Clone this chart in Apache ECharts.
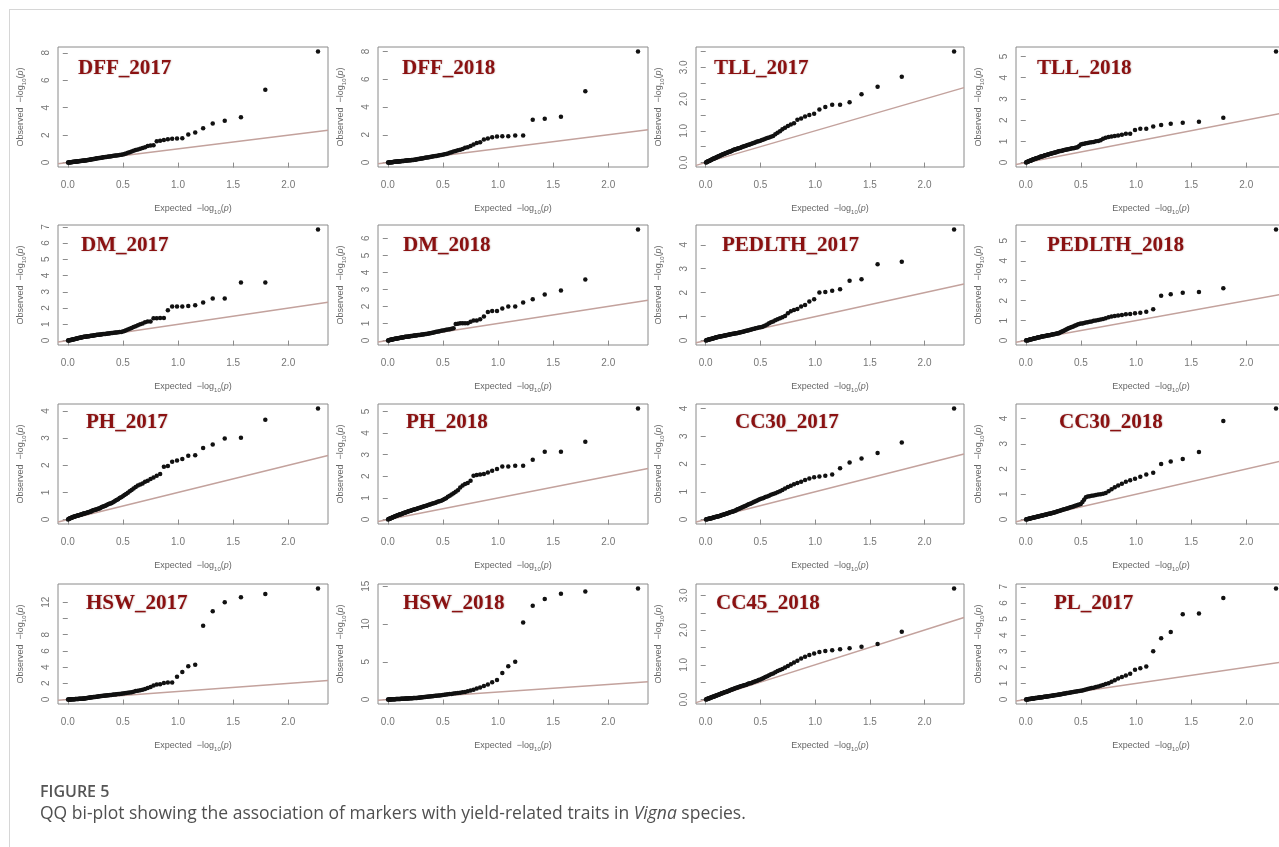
<!DOCTYPE html>
<html><head><meta charset="utf-8">
<script src="https://cdn.jsdelivr.net/npm/echarts@6/dist/echarts.min.js"></script>
<style>
html,body{margin:0;padding:0;background:#fff;}
#chart{width:1279px;height:847px;position:absolute;left:0;top:0;}
.frame{position:absolute;left:9px;top:9px;width:1270px;height:838px;border-top:1px solid #d6d6d6;border-left:1px solid #d6d6d6;pointer-events:none;}
</style></head>
<body>
<div id="chart"></div><div class="frame"></div>
<script>
// Expected -log10(p) quantiles (shared by all panels), largest first
const EXPECTED = [2.270,1.792,1.571,1.424,1.315,1.228,1.156,1.093,1.039,0.991,0.947,0.908,0.872,0.838,0.807,0.778,0.751,0.725,0.701,
0.679,0.657,0.636,0.616,0.597,0.579,0.562,0.545,0.529,0.514,
0.499,0.484,0.470,0.457,0.443,0.431,0.418,0.406,0.394,0.383,
0.372,0.361,0.350,0.340,0.330,0.320,0.310,0.301,0.292,0.283,
0.274,0.265,0.257,0.248,0.240,0.232,0.224,0.216,0.209,0.201,
0.194,0.187,0.180,0.173,0.166,0.159,0.152,0.146,0.139,0.133,
0.127,0.120,0.114,0.108,0.102,0.096,0.091,0.085,0.079,0.074,
0.068,0.063,0.057,0.052,0.047,0.042,0.037,0.032,0.027,0.022,
0.017,0.012,0.007,0.002];

const PANEL_NAMES = ['DFF_2017','DFF_2018','TLL_2017','TLL_2018','DM_2017','DM_2018','PEDLTH_2017','PEDLTH_2018',
'PH_2017','PH_2018','CC30_2017','CC30_2018','HSW_2017','HSW_2018','CC45_2018','PL_2017'];

// Observed -log10(p), largest first
const OBS_DFF_2017 = [8.1,5.3,3.3,3.05,2.85,2.5,2.2,2.05,1.78,1.75,1.73,1.7,1.65,1.6,1.56,1.27,1.24,1.2,1.12,
1.07,1.01,0.96,0.91,0.86,0.81,0.76,0.72,0.67,0.63,
0.59,0.57,0.555,0.54,0.52,0.51,0.49,0.48,0.46,0.45,
0.44,0.42,0.41,0.40,0.39,0.38,0.36,0.35,0.34,0.33,
0.32,0.31,0.29,0.28,0.27,0.26,0.25,0.24,0.23,0.21,
0.20,0.19,0.18,0.17,0.166,0.159,0.152,0.146,0.139,0.133,
0.127,0.120,0.114,0.108,0.102,0.096,0.091,0.085,0.079,0.074,
0.068,0.063,0.057,0.052,0.047,0.042,0.037,0.032,0.027,0.022,
0.017,0.012,0.007,0.002];
const OBS_DFF_2018 = [8.0,5.13,3.3,3.15,3.08,1.95,1.95,1.9,1.9,1.88,1.83,1.73,1.66,1.47,1.40,1.3,1.2,1.1,1.06,
0.98,0.93,0.88,0.83,0.79,0.74,0.70,0.66,0.62,0.59,
0.56,0.54,0.52,0.50,0.48,0.47,0.45,0.43,0.42,0.40,
0.39,0.37,0.36,0.34,0.33,0.31,0.30,0.29,0.27,0.26,
0.25,0.23,0.22,0.21,0.20,0.19,0.19,0.18,0.17,0.17,
0.16,0.16,0.15,0.14,0.14,0.13,0.13,0.12,0.12,0.11,
0.11,0.10,0.09,0.09,0.08,0.08,0.08,0.07,0.07,0.06,
0.06,0.05,0.05,0.04,0.04,0.03,0.03,0.03,0.02,0.02,
0.01,0.01,0.01,0.00];
const OBS_TLL_2017 = [3.5,2.7,2.39,2.15,1.9,1.82,1.82,1.75,1.67,1.54,1.50,1.45,1.39,1.35,1.24,1.20,1.15,1.10,1.05,
0.99,0.94,0.89,0.84,0.81,0.79,0.77,0.75,0.73,0.71,
0.69,0.67,0.66,0.64,0.62,0.61,0.59,0.58,0.56,0.55,
0.54,0.52,0.51,0.50,0.49,0.47,0.46,0.45,0.44,0.43,
0.42,0.41,0.40,0.39,0.37,0.36,0.35,0.34,0.33,0.32,
0.31,0.30,0.29,0.28,0.27,0.26,0.25,0.24,0.23,0.22,
0.21,0.20,0.19,0.18,0.17,0.16,0.15,0.14,0.13,0.13,
0.12,0.11,0.10,0.09,0.08,0.07,0.06,0.05,0.05,0.04,
0.03,0.02,0.01,0.00];
const OBS_TLL_2018 = [5.24,2.11,1.92,1.88,1.83,1.77,1.70,1.59,1.59,1.53,1.36,1.36,1.31,1.28,1.25,1.23,1.20,1.17,1.12,
1.05,1.02,1.00,0.97,0.96,0.94,0.92,0.91,0.89,0.87,
0.85,0.78,0.72,0.71,0.69,0.68,0.67,0.65,0.64,0.63,
0.61,0.60,0.59,0.58,0.56,0.55,0.54,0.53,0.52,0.50,
0.49,0.48,0.46,0.45,0.44,0.43,0.41,0.40,0.39,0.38,
0.37,0.36,0.35,0.34,0.32,0.31,0.30,0.29,0.28,0.27,
0.26,0.24,0.23,0.22,0.21,0.20,0.19,0.18,0.17,0.16,
0.15,0.14,0.12,0.11,0.10,0.09,0.08,0.07,0.06,0.05,
0.04,0.03,0.02,0.00];
const OBS_DM_2017 = [6.84,3.57,3.57,2.59,2.59,2.35,2.18,2.12,2.10,2.10,2.10,1.86,1.39,1.39,1.37,1.37,1.18,1.18,1.12,
1.05,1.00,0.94,0.88,0.83,0.78,0.73,0.68,0.63,0.59,
0.55,0.53,0.52,0.51,0.50,0.49,0.48,0.47,0.46,0.45,
0.44,0.43,0.42,0.41,0.40,0.40,0.39,0.38,0.37,0.36,
0.35,0.35,0.34,0.33,0.32,0.31,0.30,0.30,0.29,0.28,
0.27,0.27,0.26,0.25,0.25,0.24,0.23,0.23,0.22,0.21,
0.20,0.19,0.18,0.17,0.16,0.15,0.14,0.13,0.12,0.11,
0.10,0.09,0.08,0.08,0.07,0.06,0.05,0.04,0.04,0.03,
0.02,0.02,0.01,0.00];
const OBS_DM_2018 = [6.52,3.59,2.93,2.70,2.42,2.23,2.00,2.00,1.88,1.74,1.74,1.68,1.41,1.25,1.17,1.17,1.11,1.02,1.02,
1.02,1.01,0.99,0.97,0.72,0.70,0.67,0.65,0.63,0.61,
0.59,0.57,0.55,0.53,0.51,0.50,0.48,0.46,0.45,0.43,
0.42,0.40,0.39,0.38,0.37,0.36,0.35,0.34,0.33,0.33,
0.32,0.31,0.30,0.29,0.29,0.28,0.27,0.26,0.26,0.25,
0.24,0.24,0.23,0.23,0.22,0.22,0.21,0.20,0.19,0.18,
0.18,0.17,0.16,0.15,0.15,0.14,0.13,0.12,0.12,0.11,
0.10,0.10,0.09,0.08,0.08,0.07,0.06,0.05,0.04,0.04,
0.03,0.02,0.01,0.00];
const OBS_PEDLTH_2017 = [4.64,3.29,3.19,2.56,2.50,2.14,2.08,2.03,2.01,1.72,1.63,1.49,1.42,1.32,1.28,1.22,1.14,1.03,0.97,
0.93,0.89,0.85,0.80,0.76,0.72,0.67,0.63,0.60,0.57,
0.56,0.54,0.52,0.51,0.49,0.48,0.46,0.45,0.43,0.42,
0.41,0.40,0.38,0.37,0.36,0.35,0.34,0.33,0.32,0.31,
0.30,0.29,0.28,0.28,0.27,0.26,0.26,0.25,0.24,0.23,
0.23,0.22,0.21,0.21,0.20,0.19,0.19,0.18,0.18,0.17,
0.17,0.16,0.15,0.15,0.14,0.13,0.13,0.12,0.11,0.10,
0.10,0.09,0.08,0.07,0.07,0.06,0.05,0.04,0.04,0.03,
0.02,0.02,0.01,0.00];
const OBS_PEDLTH_2018 = [5.57,2.62,2.43,2.40,2.32,2.25,1.57,1.45,1.40,1.37,1.33,1.32,1.28,1.25,1.23,1.20,1.17,1.12,1.08,
1.05,1.03,1.01,0.99,0.96,0.94,0.92,0.90,0.88,0.86,
0.85,0.83,0.80,0.77,0.74,0.71,0.68,0.66,0.63,0.60,
0.57,0.54,0.51,0.48,0.45,0.43,0.40,0.37,0.36,0.35,
0.34,0.33,0.32,0.31,0.30,0.29,0.28,0.27,0.27,0.26,
0.25,0.24,0.23,0.23,0.22,0.21,0.20,0.20,0.19,0.18,
0.17,0.16,0.15,0.15,0.14,0.13,0.12,0.11,0.11,0.10,
0.09,0.08,0.08,0.07,0.06,0.05,0.05,0.04,0.03,0.02,
0.02,0.01,0.01,0.00];
const OBS_PH_2017 = [4.09,3.67,3.01,2.98,2.76,2.63,2.37,2.35,2.23,2.17,2.13,1.97,1.94,1.68,1.61,1.55,1.49,1.43,1.39,
1.33,1.29,1.25,1.20,1.14,1.09,1.04,0.99,0.94,0.90,
0.86,0.82,0.79,0.75,0.72,0.69,0.66,0.63,0.60,0.59,
0.57,0.55,0.53,0.51,0.49,0.48,0.46,0.44,0.42,0.41,
0.40,0.38,0.37,0.36,0.35,0.34,0.33,0.31,0.30,0.29,
0.28,0.27,0.26,0.25,0.24,0.23,0.22,0.22,0.21,0.20,
0.19,0.19,0.18,0.17,0.16,0.16,0.15,0.14,0.13,0.13,
0.12,0.11,0.10,0.10,0.09,0.08,0.08,0.07,0.06,0.05,
0.04,0.03,0.02,0.00];
const OBS_PH_2018 = [5.14,3.60,3.14,3.14,2.77,2.49,2.49,2.46,2.46,2.34,2.26,2.18,2.11,2.08,2.06,2.03,1.80,1.69,1.65,
1.58,1.48,1.36,1.29,1.22,1.16,1.10,1.05,0.99,0.95,
0.90,0.87,0.85,0.83,0.80,0.78,0.76,0.74,0.72,0.70,
0.68,0.66,0.64,0.63,0.61,0.59,0.58,0.56,0.55,0.53,
0.52,0.50,0.49,0.48,0.46,0.45,0.44,0.43,0.41,0.40,
0.39,0.38,0.36,0.35,0.34,0.33,0.31,0.30,0.29,0.28,
0.26,0.25,0.24,0.23,0.22,0.21,0.20,0.19,0.18,0.17,
0.15,0.14,0.13,0.12,0.11,0.09,0.08,0.07,0.06,0.05,
0.04,0.03,0.02,0.00];
const OBS_CC30_2017 = [4.0,2.77,2.4,2.2,2.05,1.85,1.62,1.58,1.55,1.52,1.48,1.42,1.36,1.32,1.27,1.22,1.17,1.12,1.06,
1.02,0.98,0.95,0.92,0.89,0.86,0.83,0.81,0.78,0.76,
0.74,0.71,0.69,0.66,0.64,0.61,0.59,0.57,0.55,0.53,
0.51,0.49,0.47,0.45,0.43,0.42,0.40,0.38,0.37,0.35,
0.33,0.32,0.30,0.29,0.28,0.27,0.26,0.25,0.24,0.23,
0.22,0.21,0.20,0.19,0.18,0.17,0.16,0.16,0.15,0.14,
0.13,0.12,0.12,0.11,0.10,0.10,0.09,0.09,0.08,0.07,
0.07,0.06,0.06,0.05,0.05,0.04,0.04,0.03,0.03,0.02,
0.02,0.01,0.01,0.00];
const OBS_CC30_2018 = [4.4,3.9,2.68,2.4,2.3,2.2,1.85,1.78,1.7,1.62,1.56,1.5,1.42,1.35,1.28,1.2,1.12,1.05,1.02,
1.00,0.99,0.97,0.95,0.94,0.92,0.91,0.88,0.78,0.70,
0.62,0.60,0.58,0.56,0.54,0.52,0.50,0.49,0.47,0.45,
0.44,0.42,0.41,0.40,0.38,0.37,0.35,0.34,0.33,0.32,
0.30,0.29,0.28,0.27,0.26,0.25,0.24,0.23,0.23,0.22,
0.21,0.20,0.19,0.19,0.18,0.17,0.16,0.16,0.15,0.14,
0.14,0.13,0.12,0.12,0.11,0.10,0.10,0.09,0.09,0.08,
0.07,0.07,0.06,0.06,0.05,0.05,0.04,0.03,0.03,0.02,
0.02,0.01,0.01,0.00];
const OBS_HSW_2017 = [13.7,13.0,12.6,12.0,10.9,9.1,4.3,4.1,3.4,2.8,2.1,2.1,2.05,1.9,1.85,1.72,1.56,1.43,1.3,
1.20,1.15,1.10,1.04,0.95,0.91,0.88,0.84,0.80,0.77,
0.74,0.71,0.69,0.67,0.65,0.63,0.61,0.59,0.57,0.56,
0.54,0.52,0.50,0.49,0.47,0.46,0.44,0.43,0.41,0.40,
0.38,0.36,0.35,0.33,0.31,0.30,0.28,0.27,0.25,0.24,
0.22,0.21,0.20,0.18,0.17,0.16,0.14,0.13,0.12,0.11,
0.11,0.10,0.10,0.09,0.09,0.08,0.08,0.07,0.07,0.06,
0.06,0.05,0.05,0.04,0.04,0.04,0.03,0.03,0.02,0.02,
0.01,0.01,0.01,0.00];
const OBS_HSW_2018 = [14.7,14.3,14.0,13.3,12.4,10.2,5.0,4.4,3.5,2.6,2.3,2.0,1.8,1.6,1.45,1.3,1.2,1.1,1.0,
0.95,0.91,0.87,0.83,0.79,0.75,0.72,0.69,0.66,0.63,
0.60,0.57,0.55,0.53,0.51,0.49,0.47,0.45,0.43,0.41,
0.40,0.38,0.36,0.34,0.33,0.31,0.30,0.28,0.27,0.25,
0.24,0.22,0.21,0.20,0.19,0.19,0.18,0.17,0.17,0.16,
0.16,0.15,0.14,0.14,0.13,0.13,0.12,0.12,0.11,0.11,
0.10,0.10,0.09,0.09,0.08,0.08,0.07,0.07,0.06,0.06,
0.05,0.05,0.05,0.04,0.04,0.03,0.03,0.03,0.02,0.02,
0.01,0.01,0.01,0.00];
const OBS_CC45_2018 = [3.2,1.95,1.6,1.52,1.48,1.45,1.42,1.4,1.37,1.33,1.28,1.23,1.18,1.12,1.07,1.02,0.97,0.92,0.88,
0.85,0.82,0.79,0.75,0.73,0.70,0.67,0.65,0.62,0.60,
0.58,0.56,0.54,0.53,0.51,0.50,0.48,0.47,0.46,0.45,
0.43,0.42,0.41,0.40,0.39,0.38,0.37,0.36,0.35,0.34,
0.33,0.32,0.31,0.30,0.29,0.28,0.27,0.26,0.25,0.24,
0.23,0.22,0.22,0.21,0.20,0.19,0.18,0.18,0.17,0.16,
0.15,0.14,0.14,0.13,0.12,0.12,0.11,0.10,0.09,0.09,
0.08,0.08,0.07,0.06,0.06,0.05,0.04,0.04,0.03,0.03,
0.02,0.01,0.01,0.00];
const OBS_PL_2017 = [6.9,6.3,5.35,5.3,4.2,3.8,3.0,2.05,1.95,1.85,1.6,1.5,1.4,1.3,1.2,1.1,1.02,0.96,0.9,
0.85,0.81,0.78,0.74,0.71,0.68,0.65,0.62,0.60,0.57,
0.55,0.53,0.51,0.50,0.48,0.47,0.45,0.44,0.42,0.41,
0.40,0.38,0.37,0.36,0.35,0.33,0.32,0.31,0.30,0.29,
0.28,0.27,0.26,0.25,0.24,0.23,0.22,0.22,0.21,0.20,
0.19,0.19,0.18,0.17,0.17,0.16,0.15,0.15,0.14,0.13,
0.13,0.12,0.11,0.11,0.10,0.10,0.09,0.09,0.08,0.07,
0.07,0.06,0.06,0.05,0.05,0.04,0.04,0.03,0.03,0.02,
0.02,0.01,0.01,0.00];

const PANEL_OBS = [OBS_DFF_2017,OBS_DFF_2018,OBS_TLL_2017,OBS_TLL_2018,OBS_DM_2017,OBS_DM_2018,OBS_PEDLTH_2017,OBS_PEDLTH_2018,
OBS_PH_2017,OBS_PH_2018,OBS_CC30_2017,OBS_CC30_2018,OBS_HSW_2017,OBS_HSW_2018,OBS_CC45_2018,OBS_PL_2017];

// Tick marks and tick labels
const X_TICKS = [0, 0.5, 1, 1.5, 2];
const Y_TICKS = [[0,2,4,6,8],[0,2,4,6,8],[0,0.5,1,1.5,2,2.5,3,3.5],[0,1,2,3,4,5],
[0,1,2,3,4,5,6,7],[0,1,2,3,4,5,6],[0,1,2,3,4],[0,1,2,3,4,5],
[0,1,2,3,4],[0,1,2,3,4,5],[0,1,2,3,4],[0,1,2,3,4],
[0,2,4,6,8,10,12],[0,5,10,15],[0,0.5,1,1.5,2,2.5,3],[0,1,2,3,4,5,6,7]];
const Y_LABELS = [[0,2,4,6,8],[0,2,4,6,8],[0,1,2,3],[0,1,2,3,4,5],
[0,1,2,3,4,5,6,7],[0,1,2,3,4,5,6],[0,1,2,3,4],[0,1,2,3,4,5],
[0,1,2,3,4],[0,1,2,3,4,5],[0,1,2,3,4],[0,1,2,3,4],
[0,2,4,6,8,12],[0,5,10,15],[0,1,2,3],[0,1,2,3,4,5,6,7]];
const Y_DECIMALS = [0,0,1,0, 0,0,0,0, 0,0,0,0, 0,0,1,0];

// Layout (pixels)
const COL_LEFT = [58, 378, 696, 1016];
const COL_W = [270, 270, 268, 270];
const ROW_TOP = [47, 225, 404, 584];
const ROW_H = 120;
const TITLE_LEFT = [78,402,714,1037, 81,403,722,1047, 86,406,735,1059, 86,403,716,1054];
const TITLE_CY = [70, 247, 424, 605];

const chart = echarts.init(document.getElementById('chart'), null, {renderer:'canvas'});
const TICK_COLOR = '#8c8c8c', LABEL_COLOR = '#767676';
const nameRich = {
  s: {fontSize: 6, fontFamily: 'Liberation Sans', color: '#666', verticalAlign: 'bottom', lineHeight: 13},
  i: {fontSize: 9, fontFamily: 'Liberation Sans', color: '#666', fontStyle: 'italic'}
};
const option = {animation:false, backgroundColor:'#ffffff', title:[], grid:[], xAxis:[], yAxis:[], series:[], graphic:[]};

PANEL_NAMES.forEach((name, k) => {
  const r = Math.floor(k/4), c = k % 4;
  const obs = PANEL_OBS[k];
  const xLo = Math.min(...EXPECTED), xHi = Math.max(...EXPECTED);
  const xMin = xLo - 0.04*(xHi-xLo), xMax = xHi + 0.04*(xHi-xLo);
  const yLo = Math.min(...obs), yHi = Math.max(...obs);
  const yMin = yLo - 0.04*(yHi-yLo), yMax = yHi + 0.04*(yHi-yLo);
  const dec = Y_DECIMALS[k];
  option.grid.push({left:COL_LEFT[c], top:ROW_TOP[r], width:COL_W[c], height:ROW_H, show:true,
    borderColor:'#8a8a8a', borderWidth:1, backgroundColor:'transparent', containLabel:false, outerBoundsMode:'none'});
  option.xAxis.push({type:'value', gridIndex:k, min:xMin, max:xMax,
    axisLine:{show:false}, splitLine:{show:false},
    axisTick:{show:true, inside:false, length:5, customValues:X_TICKS, lineStyle:{color:TICK_COLOR, width:1}},
    axisLabel:{customValues:X_TICKS, formatter:v=>Number(v).toFixed(1), margin:13, fontSize:10, color:LABEL_COLOR, fontFamily:'Liberation Sans'},
    name:'Expected  \u2212log{s|10}({i|p})', nameLocation:'middle', nameGap:35, nameMoveOverlap:false,
    nameTextStyle:{fontSize:9, color:'#666', fontFamily:'Liberation Sans', rich:nameRich}});
  option.yAxis.push({type:'value', gridIndex:k, min:yMin, max:yMax,
    axisLine:{show:false}, splitLine:{show:false},
    axisTick:{show:true, inside:false, length:5, customValues:Y_TICKS[k], lineStyle:{color:TICK_COLOR, width:1}},
    axisLabel:{customValues:Y_LABELS[k], formatter:v=>Number(v).toFixed(dec), rotate:90, margin:7, fontSize:10, color:LABEL_COLOR, fontFamily:'Liberation Sans'},
    name:'Observed  \u2212log{s|10}({i|p})', nameLocation:'middle', nameGap:31, nameRotate:90, nameMoveOverlap:false,
    nameTextStyle:{fontSize:9, color:'#666', fontFamily:'Liberation Sans', rich:nameRich}});
  option.series.push({type:'line', xAxisIndex:k, yAxisIndex:k, data:[[xMin,xMin],[xMax,xMax]],
    symbol:'none', silent:true, clip:true, z:1, lineStyle:{color:'#c3a29d', width:1.5}});
  option.series.push({type:'scatter', xAxisIndex:k, yAxisIndex:k, data:EXPECTED.map((e,i)=>[e, obs[i]]),
    symbol:'circle', symbolSize:4.5, silent:true, z:2, itemStyle:{color:'#111', opacity:1}});
  option.title.push({text:name, left:TITLE_LEFT[k], top:TITLE_CY[r]-12, padding:0,
    textStyle:{fontFamily:'"Liberation Serif", "Times New Roman", serif', fontWeight:'bold', fontSize:21, color:'#8a1111',
      textShadowColor:'rgba(60,0,0,0.35)', textShadowBlur:1.5, textShadowOffsetX:0.5, textShadowOffsetY:0.5}});
});

option.graphic.push({type:'text', left:40, top:784, silent:true,
  style:{text:'FIGURE 5', font:'600 16px "Open Sans"', fill:'#555555'}});
option.graphic.push({type:'text', left:40, top:805, silent:true,
  style:{text:'QQ bi-plot showing the association of markers with yield-related traits in {i|Vigna} species.',
    font:'17.5px "Open Sans"', fill:'#505050',
    rich:{i:{font:'italic 17.5px "Open Sans"', fill:'#505050', fontStyle:'italic', fontSize:17.5, fontFamily:'Open Sans'}}}});

chart.setOption(option);
</script>
</body></html>
